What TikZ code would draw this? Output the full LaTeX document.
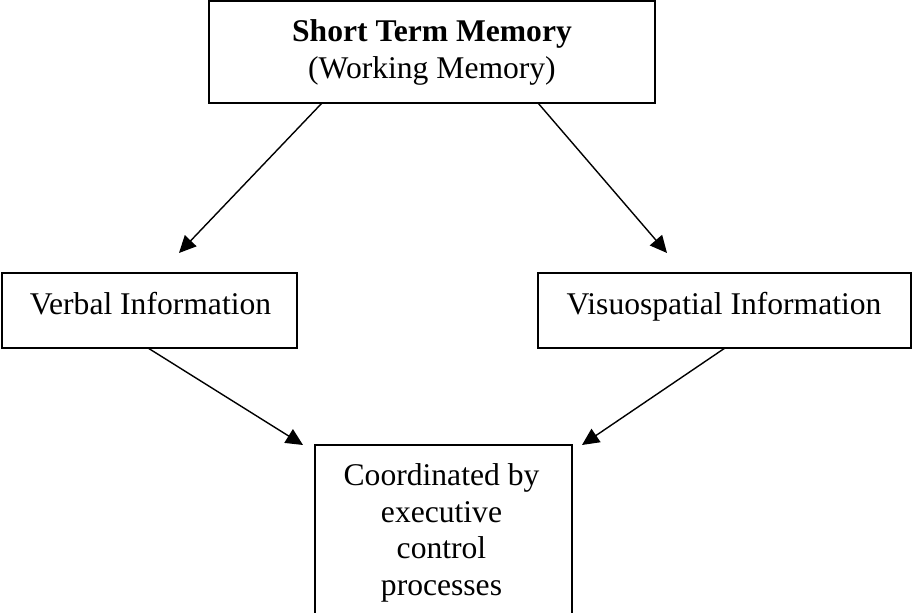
\documentclass[tikz,border=0pt]{standalone}
\usepackage{fontspec}
\setmainfont{Liberation Serif}
\usetikzlibrary{arrows.meta}
\begin{document}
\begin{tikzpicture}[x=0.5pt,y=-0.5pt,
  box/.style={draw, line width=0.8pt, inner sep=0pt, outer sep=0pt},
  lbl/.style={anchor=base, font=\fontsize{15.8pt}{18.25pt}\selectfont, inner sep=0pt},
  arr/.style={-{Triangle[length=8.5pt,width=8pt]}, line width=0.7pt}]
\useasboundingbox (0,0) rectangle (912,613);
\clip (0,0) rectangle (912,613);
% boxes
\node[box, minimum width=223pt, minimum height=51pt] (stm) at (432,52) {};
\node[box, minimum width=147.5pt, minimum height=37.5pt] (verbal) at (149.5,310.5) {};
\node[box, minimum width=186.5pt, minimum height=37.5pt] (visuo) at (724.5,310.5) {};
\node[box, minimum width=128.5pt, minimum height=102.5pt] (exec) at (443.5,547.5) {};
% texts
\node[lbl] (stm1) at (432,42) {\textbf{Short Term Memory}};
\node[lbl] (stm2) at (432,79) {(Working Memory)};
\node[lbl] (verbalt) at (150.5,315) {Verbal Information};
\node[lbl] (visuot) at (724,315) {Visuospatial Information};
\node[lbl] (exec1) at (441.5,486) {Coordinated by};
\node[lbl] (exec2) at (441.5,522.5) {executive};
\node[lbl] (exec3) at (441.5,559) {control};
\node[lbl] (exec4) at (441.5,595.5) {processes};
% connector ends
\coordinate (s1) at (322,103);
\coordinate (e1) at (179,253);
\coordinate (s2) at (538,103);
\coordinate (e2) at (667,253);
\coordinate (s3) at (148,348);
\coordinate (e3) at (303,445);
\coordinate (s4) at (725,348);
\coordinate (e4) at (582,445);
\draw[arr] (s1) -- (e1);
\draw[arr] (s2) -- (e2);
\draw[arr] (s3) -- (e3);
\draw[arr] (s4) -- (e4);
\end{tikzpicture}
\end{document}
